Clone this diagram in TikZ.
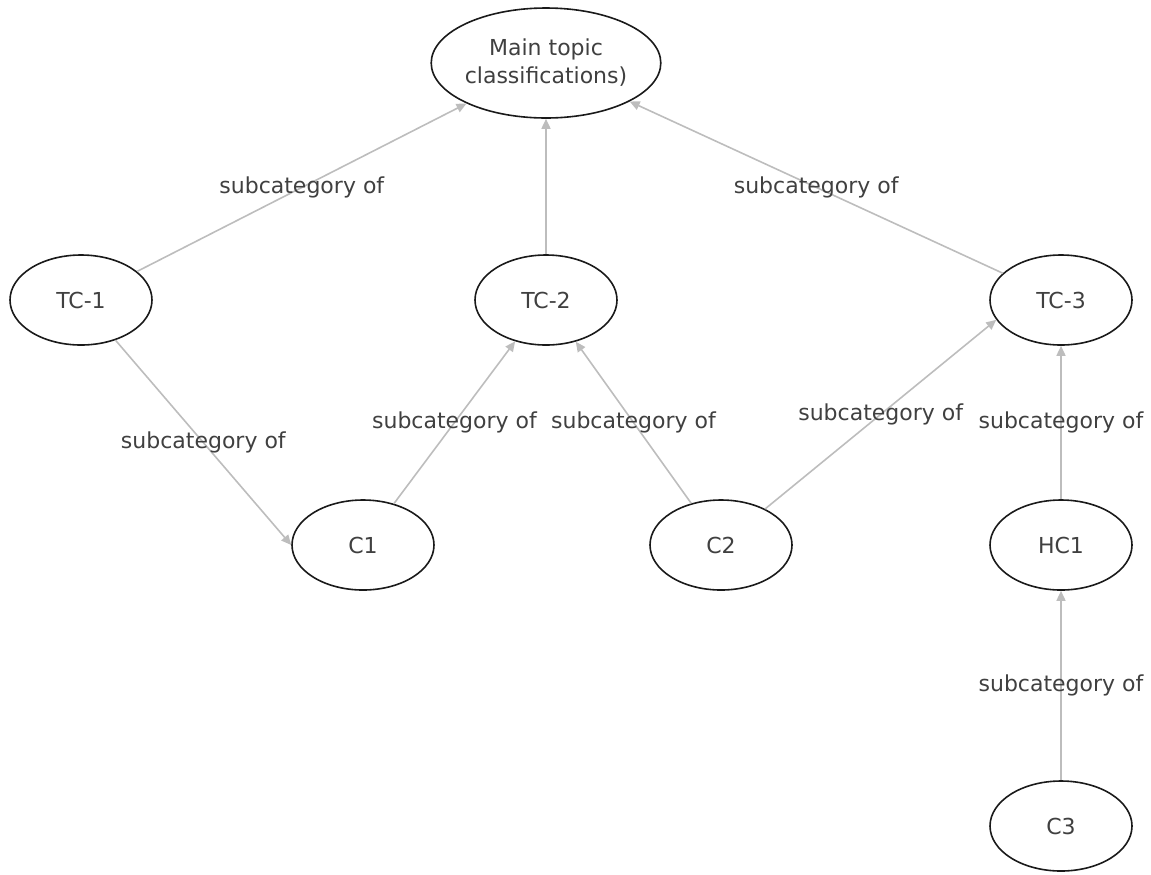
\documentclass[tikz,border=0pt]{standalone}
\usepackage{fontspec}
\setmainfont{DejaVu Sans}
\usetikzlibrary{arrows.meta,positioning,shapes.geometric}
\definecolor{cText}{HTML}{404040}
\definecolor{cEdge}{HTML}{BDBDBD}
\definecolor{cLine}{HTML}{1A1A1A}
\tikzset{
  topic/.style={ellipse, draw=cLine, line width=0.8pt, fill=white,
                minimum width=71pt, minimum height=45pt, inner sep=0pt,
                text=cText, align=center},
  arr/.style={-{Triangle[length=5pt, width=4.5pt]}, line width=0.8pt, cEdge},
  lbl/.style={text=cText}
}

\begin{document}
\begin{tikzpicture}[x=0.5pt, y=-0.5pt, on grid, font=\fontsize{11}{14}\selectfont]
\useasboundingbox (0,0) rectangle (1151,874);
\node[topic, minimum width=85pt, minimum height=55pt] (main) at (546,63) {Main topic\\classifications)};
\node[topic, below=118.5pt of main] (tc2) {TC-2};
\node[topic, left=232.5pt of tc2] (tc1) {TC-1};
\node[topic, right=257.5pt of tc2] (tc3) {TC-3};
\node[topic, below left=122.5pt and 91.5pt of tc2] (c1) {C1};
\node[topic, below right=122.5pt and 87.5pt of tc2] (c2) {C2};
\node[topic, below=122.5pt of tc3] (hc1) {HC1};
\node[topic, below=140.5pt of hc1] (c3) {C3};

\draw[arr] (tc1) -- (main) node[midway, lbl] {subcategory of};
\draw[arr] (tc2) -- (main);
\draw[arr] (tc3) -- (main) node[midway, lbl] {subcategory of};
\draw[arr] (tc1) -- (c1.west) node[midway, lbl] {subcategory of};
\draw[arr] (c1) -- (tc2) node[midway, lbl] {subcategory of};
\draw[arr] (c2) -- (tc2) node[midway, lbl] {subcategory of};
\draw[arr] (c2) -- (tc3.197) node[midway, lbl] {subcategory of};
\draw[arr] (hc1) -- (tc3) node[midway, lbl] {subcategory of};
\draw[arr] (c3) -- (hc1) node[midway, lbl] {subcategory of};
\end{tikzpicture}
\end{document}
